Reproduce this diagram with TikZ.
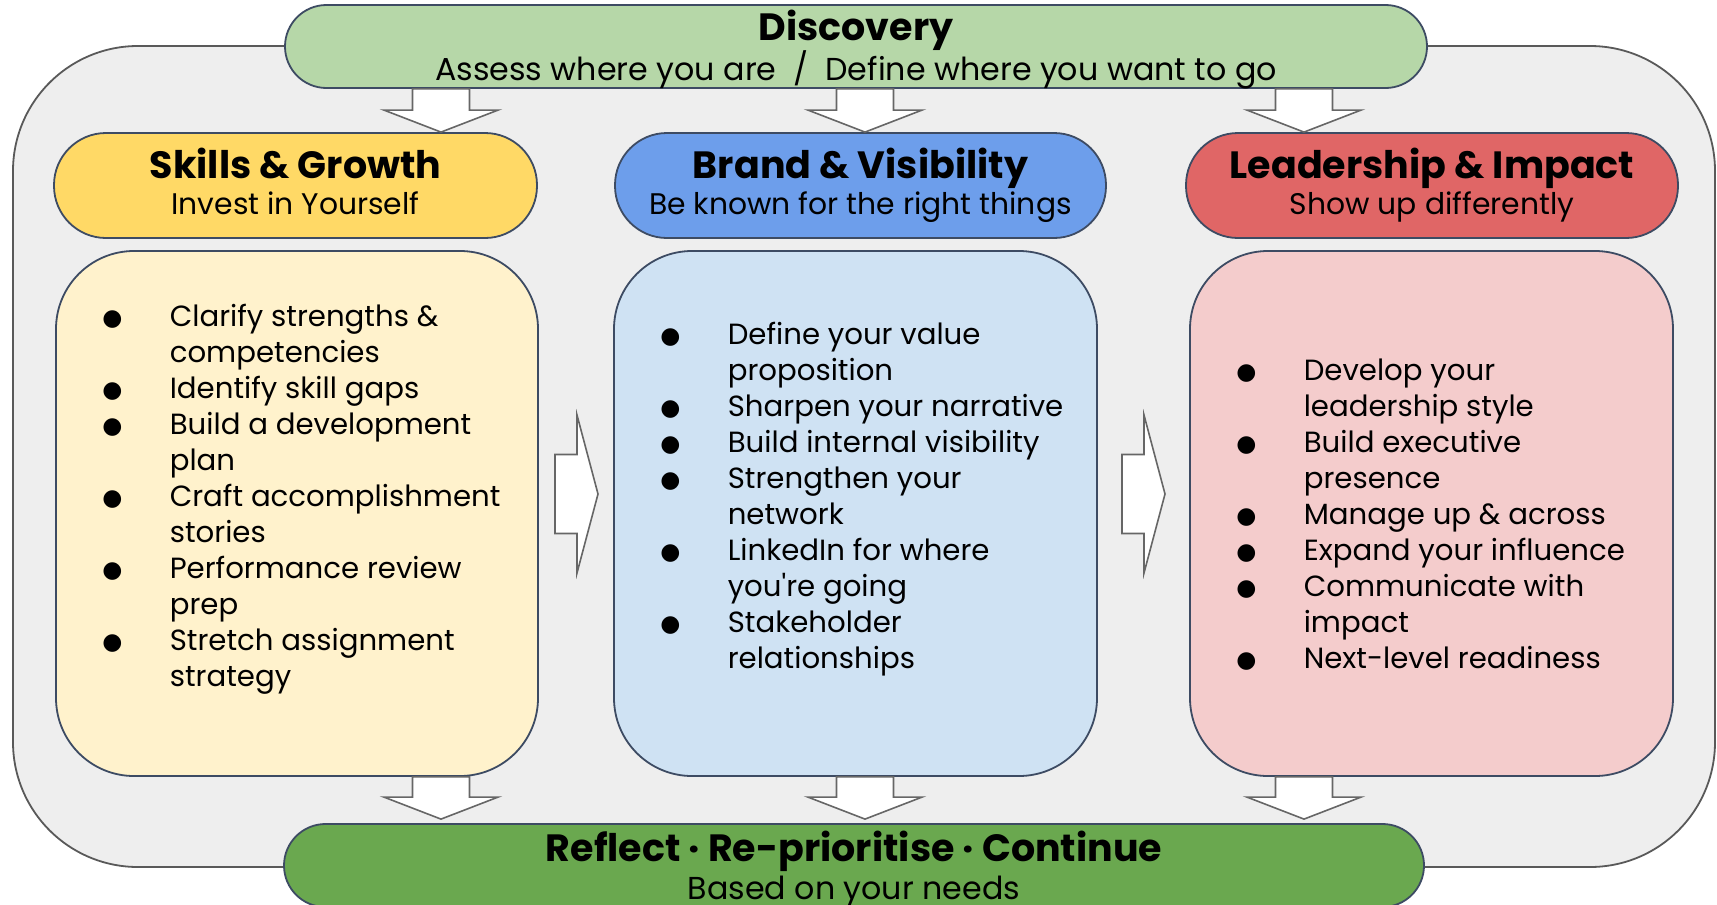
\documentclass[tikz,border=0pt]{standalone}
\usepackage{fontspec}
\setmainfont{Poppins}
\newfontfamily\symfont{DejaVu Sans}
\usetikzlibrary{calc}
\definecolor{outerfill}{HTML}{EEEEEE}
\definecolor{outerdraw}{HTML}{595959}
\definecolor{edge}{HTML}{3D4B63}
\definecolor{discfill}{HTML}{B6D7A8}
\definecolor{skhfill}{HTML}{FFD966}
\definecolor{skcfill}{HTML}{FFF2CC}
\definecolor{brhfill}{HTML}{6D9EEB}
\definecolor{brcfill}{HTML}{CFE2F3}
\definecolor{lehfill}{HTML}{E06666}
\definecolor{lecfill}{HTML}{F4CCCC}
\definecolor{rflfill}{HTML}{6AA84F}
\definecolor{arrowdraw}{HTML}{666666}
\newcommand{\bul}{\makebox[84.5pt][l]{\makebox[54pt][c]{\raisebox{1pt}{\symfont\fontsize{23}{23}\selectfont ●}}}}
\newcommand{\ind}{\hspace*{84.5pt}}
\newcommand{\downarr}[2]{\draw[blockarr] let \p1=(#1), \p2=(#2) in
  (\x1-28.5pt,\y1) -- (\x1+28.5pt,\y1) -- (\x1+28.5pt,\y2+22pt) -- (\x1+57pt,\y2+22pt)
  -- (\x1,\y2) -- (\x1-57pt,\y2+22pt) -- (\x1-28.5pt,\y2+22pt) -- cycle;}
\newcommand{\rightarr}[2]{\draw[blockarr] let \p1=(#1), \p2=(#2) in
  (\x1,\y1+39.5pt) -- (\x2-21pt,\y1+39.5pt) -- (\x2-21pt,\y1+79pt) -- (\x2,\y1)
  -- (\x2-21pt,\y1-79pt) -- (\x2-21pt,\y1-39.5pt) -- (\x1,\y1-39.5pt) -- cycle;}
\begin{document}
\begin{tikzpicture}[x=1pt,y=-1pt,
  box/.style={draw=edge, line width=1.8pt, rounded corners=#1, inner sep=0pt},
  blockarr/.style={draw=arrowdraw, fill=white, line width=1.6pt, line join=miter},
  ttl/.style={font=\bfseries\fontsize{38}{42}\selectfont, anchor=base, inner sep=0pt},
  sub/.style={font=\fontsize{29.8}{34}\selectfont, anchor=base, inner sep=0pt},
  bigsub/.style={font=\fontsize{31.7}{36}\selectfont, anchor=base, inner sep=0pt},
  lst/.style={font=\fontsize{29.2}{36}\selectfont, align=left, anchor=north west, inner sep=0pt}]
\useasboundingbox (0,0) rectangle (1717,905);
% outer frame
\node[draw=outerdraw, fill=outerfill, line width=1.8pt, rounded corners=125pt,
  minimum width=1702pt, minimum height=821pt, inner sep=0pt] (outer) at (864,456.5) {};
% top and bottom bars
\node[box=41.5pt, fill=discfill, minimum width=1142pt, minimum height=83pt] (disc) at (856,46.5) {};
\node[box=41.5pt, fill=rflfill, minimum width=1140pt, minimum height=83pt] (rfl) at (854,865.5) {};
% headers
\node[box=52pt, fill=skhfill, minimum width=483pt, minimum height=105pt] (skh) at (295.5,185.5) {};
\node[box=52pt, fill=brhfill, minimum width=491pt, minimum height=105pt] (brh) at (860.5,185.5) {};
\node[box=52pt, fill=lehfill, minimum width=492pt, minimum height=105pt] (leh) at (1432,185.5) {};
% content boxes
\node[box=78pt, fill=skcfill, minimum width=482pt, minimum height=525pt] (skc) at (297,513.5) {};
\node[box=78pt, fill=brcfill, minimum width=483pt, minimum height=525pt] (brc) at (855.5,513.5) {};
\node[box=78pt, fill=lecfill, minimum width=483pt, minimum height=525pt] (lec) at (1431.5,513.5) {};
% texts
\node[ttl] (disct) at ($(disc.north)+(0,36.5)$) {Discovery};
\node[bigsub] (discs) at ($(disc.north)+(0,76)$) {Assess where you are~~/~~Define where you want to go};
\node[ttl] (skt) at ($(skh.north)+(0,46)$) {Skills \& Growth};
\node[sub] (sks) at ($(skh.north)+(0,82)$) {Invest in Yourself};
\node[ttl] (brt) at ($(brh.north)+(0,46)$) {Brand \& Visibility};
\node[sub] (brs) at ($(brh.north)+(0,82)$) {Be known for the right things};
\node[ttl] (let) at ($(leh.north)+(0,46)$) {Leadership \& Impact};
\node[sub] (les) at ($(leh.north)+(0,82)$) {Show up differently};
\node[ttl] (rflt) at ($(rfl.north)+(0,38)$) {Reflect · Re-prioritise · Continue};
\node[bigsub] (rfls) at ($(rfl.north)+(0,76)$) {Based on your needs};
% lists
\node[lst] (skl) at ($(skc.north west)+(30,50.8)$) {\strut\bul Clarify strengths \&\\
\ind competencies\\
\bul Identify skill gaps\\
\bul Build a development\\
\ind plan\\
\bul Craft accomplishment\\
\ind stories\\
\bul Performance review\\
\ind prep\\
\bul Stretch assignment\\
\ind strategy};
\node[lst] (brl) at ($(brc.north west)+(30,68.8)$) {\strut\bul Define your value\\
\ind proposition\\
\bul Sharpen your narrative\\
\bul Build internal visibility\\
\bul Strengthen your\\
\ind network\\
\bul LinkedIn for where\\
\ind you\textquotesingle re going\\
\bul Stakeholder\\
\ind relationships};
\node[lst] (lel) at ($(lec.north west)+(30,104.8)$) {\strut\bul Develop your\\
\ind leadership style\\
\bul Build executive\\
\ind presence\\
\bul Manage up \& across\\
\bul Expand your influence\\
\bul Communicate with\\
\ind impact\\
\bul Next-level readiness};
% arrows
\coordinate (a1) at (441,0);
\coordinate (a2) at (865,0);
\coordinate (a3) at (1304,0);
\downarr{a1 |- disc.south}{a1 |- skh.north}
\downarr{a2 |- disc.south}{a2 |- brh.north}
\downarr{a3 |- disc.south}{a3 |- leh.north}
\downarr{a1 |- skc.south}{$(a1 |- rfl.north)+(0,-4)$}
\downarr{a2 |- brc.south}{$(a2 |- rfl.north)+(0,-4)$}
\downarr{a3 |- lec.south}{$(a3 |- rfl.north)+(0,-4)$}
\coordinate (r1s) at (555,494);
\coordinate (r1t) at (598,494);
\coordinate (r2s) at (1122,494);
\coordinate (r2t) at (1165,494);
\rightarr{r1s}{r1t}
\rightarr{r2s}{r2t}
\end{tikzpicture}
\end{document}
